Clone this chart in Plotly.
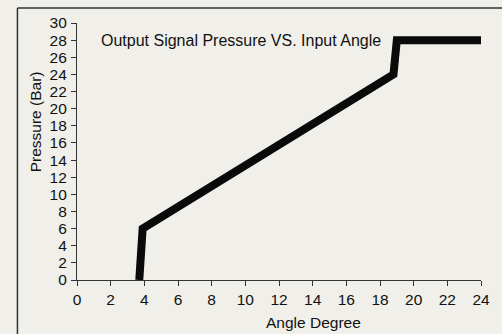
import plotly.graph_objects as go

# Output signal pressure characteristic vs. input angle
angle_deg = [3.7, 3.9, 18.8, 19.0, 24.0]
pressure_bar = [0, 6, 24, 28, 28]

x_ticks = list(range(0, 25, 2))
y_ticks = list(range(0, 31, 2))

BG = "#f0efea"
FONT = "Liberation Sans, Arial, Helvetica, sans-serif"

W, H = 502, 334
ML, MR, MT, MB = 77, 18, 23, 54
PW, PH = W - ML - MR, H - MT - MB


def px_to_paper(px, py):
    return (px - ML) / PW, (H - MB - py) / PH


fig = go.Figure()
fig.add_trace(go.Scatter(
    x=angle_deg, y=pressure_bar, mode="lines",
    line=dict(color="#0a0a0a", width=8),
    hoverinfo="skip", showlegend=False,
))

axis_common = dict(
    showgrid=False, zeroline=False, showline=True, linecolor="#333333", linewidth=1.2,
    ticks="outside", ticklen=5, tickwidth=1.2, tickcolor="#333333",
    tickfont=dict(family=FONT, size=15.5, color="#111111"),
)
fig.update_xaxes(range=[0, 24], tickvals=x_ticks, **axis_common)
fig.update_yaxes(range=[0, 30], tickvals=y_ticks, ticklabelstandoff=1, **axis_common)

annotations = []
# Chart caption inside the plot area
cx, cy = px_to_paper(99, 40)
annotations.append(dict(text="Output Signal Pressure VS. Input Angle", x=cx, y=cy,
                        xref="paper", yref="paper", xanchor="left", yanchor="middle",
                        showarrow=False, font=dict(family=FONT, size=16, color="#111111")))
# Axis titles
tx, ty = px_to_paper(315, 322)
annotations.append(dict(text="Angle Degree", x=tx, y=ty, xref="paper", yref="paper",
                        xanchor="center", yanchor="middle", showarrow=False,
                        font=dict(family=FONT, size=15.5, color="#111111")))
lx, ly = px_to_paper(36, 122)
annotations.append(dict(text="Pressure (Bar)", x=lx, y=ly, xref="paper", yref="paper",
                        xanchor="center", yanchor="middle", textangle=-90, showarrow=False,
                        font=dict(family=FONT, size=15.5, color="#111111")))

# Outer frame: left and top rules
fx0, fy0 = px_to_paper(17, 8)
fx1, fy1 = px_to_paper(W + 5, H + 5)
shapes = [
    dict(type="line", xref="paper", yref="paper", x0=fx0, y0=fy0, x1=fx0, y1=fy1,
         line=dict(color="#333333", width=1.5)),
    dict(type="line", xref="paper", yref="paper", x0=fx0, y0=fy0, x1=fx1, y1=fy0,
         line=dict(color="#333333", width=1.5)),
]

fig.update_layout(
    width=W, height=H, margin=dict(l=ML, r=MR, t=MT, b=MB),
    paper_bgcolor=BG, plot_bgcolor=BG,
    annotations=annotations, shapes=shapes,
    font=dict(family=FONT),
)

fig.write_html("out.html", config={"displayModeBar": False})
